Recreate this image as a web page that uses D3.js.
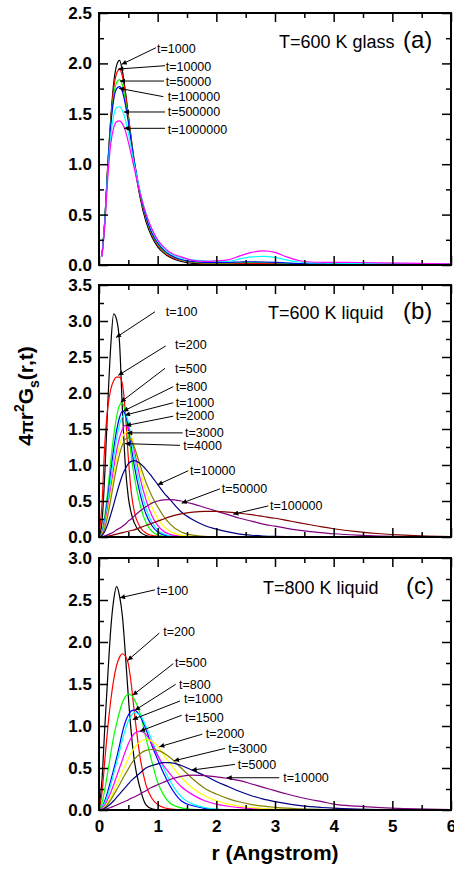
<!DOCTYPE html>
<html>
<head>
<meta charset="utf-8">
<script src="https://cdnjs.cloudflare.com/ajax/libs/d3/7.8.5/d3.min.js"></script>
<style>
body { margin: 0; background: #fff; }
svg { display: block; font-family: "Liberation Sans", Arial, sans-serif; }
</style>
</head>
<body>
<svg></svg>
<script>
// r grid of panel (a)
var rA = [0.05, 0.1, 0.15, 0.2, 0.25, 0.3, 0.35, 0.4, 0.45, 0.5,
    0.6, 0.7, 0.8, 0.9, 1.0, 1.1, 1.2,
    1.4, 1.6, 1.8, 2.0, 2.2, 2.4, 2.6, 2.8, 3.0, 3.2, 3.4, 3.6, 3.8,
    4.0, 4.4, 4.8, 5.2, 5.6, 6.0];

var glass1000 = [0.09, 0.45, 1.0, 1.45, 1.8, 1.98, 2.03, 1.92, 1.72, 1.48,
    1.02, 0.67, 0.43, 0.28, 0.18, 0.12, 0.08,
    0.035, 0.016, 0.01, 0.008, 0.008, 0.008, 0.008, 0.008, 0.008, 0.006, 0.005, 0.005, 0.005,
    0.005, 0.005, 0.004, 0.004, 0.004, 0.004];
var glass10000 = [0.09, 0.45, 1.0, 1.43, 1.75, 1.9, 1.94, 1.87, 1.7, 1.48,
    1.04, 0.7, 0.46, 0.3, 0.2, 0.13, 0.09,
    0.045, 0.025, 0.016, 0.013, 0.013, 0.014, 0.015, 0.015, 0.013, 0.01, 0.008, 0.007, 0.007,
    0.007, 0.006, 0.006, 0.005, 0.005, 0.005];
var glass50000 = [0.09, 0.45, 0.98, 1.4, 1.68, 1.81, 1.84, 1.78, 1.63, 1.44,
    1.03, 0.71, 0.47, 0.31, 0.21, 0.14, 0.1,
    0.05, 0.03, 0.022, 0.02, 0.022, 0.025, 0.027, 0.027, 0.024, 0.018, 0.013, 0.01, 0.009,
    0.009, 0.009, 0.008, 0.007, 0.006, 0.006];
var glass100000 = [0.09, 0.44, 0.97, 1.38, 1.64, 1.75, 1.77, 1.72, 1.59, 1.42,
    1.03, 0.72, 0.48, 0.32, 0.22, 0.15, 0.105,
    0.055, 0.035, 0.027, 0.025, 0.027, 0.03, 0.032, 0.03, 0.026, 0.02, 0.015, 0.012, 0.011,
    0.011, 0.011, 0.01, 0.008, 0.007, 0.006];
var glass500000 = [0.08, 0.42, 0.92, 1.28, 1.48, 1.56, 1.57, 1.53, 1.44, 1.31,
    1.0, 0.73, 0.51, 0.35, 0.24, 0.17, 0.12,
    0.07, 0.05, 0.04, 0.035, 0.035, 0.06, 0.08, 0.085, 0.075, 0.05, 0.03, 0.022, 0.02,
    0.018, 0.016, 0.014, 0.012, 0.01, 0.008];
var glass1000000 = [0.08, 0.4, 0.87, 1.2, 1.36, 1.42, 1.43, 1.4, 1.33, 1.22,
    0.96, 0.71, 0.51, 0.36, 0.25, 0.18, 0.13,
    0.08, 0.045, 0.035, 0.04, 0.05, 0.09, 0.125, 0.14, 0.125, 0.08, 0.045, 0.03, 0.027,
    0.026, 0.025, 0.022, 0.018, 0.015, 0.012];

// r grid of panels (b) and (c)
var rBC = [0, 0.05, 0.1, 0.15, 0.2, 0.25, 0.3, 0.35, 0.4, 0.45,
    0.5, 0.55, 0.6, 0.7, 0.8, 0.9, 1.0, 1.1, 1.2,
    1.4, 1.6, 1.8, 2.0, 2.2, 2.4, 2.6, 2.8, 3.0, 3.2,
    3.4, 3.6, 3.8, 4.0, 4.4, 4.8, 5.2, 5.6, 6.0];

var liq600_100 = [0, 0.2, 0.9, 1.85, 2.65, 3.1, 3.02, 2.7, 1.75, 0.98,
    0.55, 0.33, 0.2, 0.07, 0.02, 0.005, 0, 0, 0,
    0, 0, 0, 0, 0, 0, 0, 0, 0, 0,
    0, 0, 0, 0, 0, 0, 0, 0, 0];
var liq600_200 = [0, 0.45, 1.3, 1.8, 2.05, 2.17, 2.22, 2.22, 2.12, 1.72,
    1.1, 0.62, 0.36, 0.14, 0.055, 0.022, 0.01, 0.005, 0.002,
    0, 0, 0, 0, 0, 0, 0, 0, 0, 0,
    0, 0, 0, 0, 0, 0, 0, 0, 0];
var liq600_500 = [0, 0.07, 0.3, 0.65, 1.05, 1.4, 1.67, 1.83, 1.86, 1.72,
    1.45, 1.12, 0.85, 0.45, 0.2, 0.08, 0.03, 0.01, 0.004,
    0, 0, 0, 0, 0, 0, 0, 0, 0, 0,
    0, 0, 0, 0, 0, 0, 0, 0, 0];
var liq600_800 = [0, 0.06, 0.25, 0.55, 0.9, 1.22, 1.48, 1.66, 1.75, 1.7,
    1.52, 1.25, 1.0, 0.6, 0.32, 0.16, 0.07, 0.03, 0.012,
    0.002, 0, 0, 0, 0, 0, 0, 0, 0, 0,
    0, 0, 0, 0, 0, 0, 0, 0, 0];
var liq600_1000 = [0, 0.05, 0.22, 0.48, 0.8, 1.1, 1.37, 1.56, 1.67, 1.7,
    1.6, 1.38, 1.12, 0.7, 0.4, 0.21, 0.1, 0.045, 0.02,
    0.004, 0, 0, 0, 0, 0, 0, 0, 0, 0,
    0, 0, 0, 0, 0, 0, 0, 0, 0];
var liq600_2000 = [0, 0.04, 0.18, 0.4, 0.67, 0.95, 1.2, 1.38, 1.5, 1.55,
    1.52, 1.4, 1.22, 0.82, 0.52, 0.3, 0.16, 0.08, 0.04,
    0.009, 0.002, 0, 0, 0, 0, 0, 0, 0, 0,
    0, 0, 0, 0, 0, 0, 0, 0, 0];
var liq600_3000 = [0, 0.035, 0.15, 0.35, 0.6, 0.85, 1.08, 1.27, 1.39, 1.45,
    1.46, 1.4, 1.27, 0.93, 0.64, 0.42, 0.26, 0.15, 0.085,
    0.025, 0.007, 0.002, 0, 0, 0, 0, 0, 0, 0,
    0, 0, 0, 0, 0, 0, 0, 0, 0];
var liq600_4000 = [0, 0.03, 0.13, 0.3, 0.52, 0.75, 0.97, 1.15, 1.28, 1.36,
    1.38, 1.34, 1.25, 1.0, 0.76, 0.57, 0.42, 0.29, 0.19,
    0.07, 0.025, 0.008, 0.003, 0, 0, 0, 0, 0, 0,
    0, 0, 0, 0, 0, 0, 0, 0, 0];
var liq600_10000 = [0, 0.02, 0.08, 0.18, 0.31, 0.45, 0.6, 0.74, 0.86, 0.95,
    1.02, 1.05, 1.06, 1.02, 0.94, 0.84, 0.73, 0.62, 0.53,
    0.35, 0.24, 0.16, 0.11, 0.07, 0.04, 0.024, 0.014, 0.008, 0.004,
    0.002, 0, 0, 0, 0, 0, 0, 0, 0];
var liq600_50000 = [0, 0.005, 0.015, 0.03, 0.05, 0.07, 0.1, 0.12, 0.15, 0.18,
    0.22, 0.25, 0.29, 0.36, 0.42, 0.47, 0.5, 0.515, 0.52,
    0.5, 0.46, 0.41, 0.36, 0.31, 0.26, 0.22, 0.18, 0.15, 0.12,
    0.095, 0.075, 0.06, 0.045, 0.025, 0.013, 0.007, 0.004, 0.002];
var liq600_100000 = [0, 0.002, 0.006, 0.012, 0.02, 0.03, 0.04, 0.05, 0.06, 0.07,
    0.08, 0.09, 0.1, 0.13, 0.16, 0.19, 0.22, 0.25, 0.28,
    0.32, 0.345, 0.355, 0.355, 0.345, 0.33, 0.31, 0.285, 0.26, 0.23,
    0.2, 0.17, 0.14, 0.115, 0.075, 0.045, 0.025, 0.013, 0.007];

var liq800_100 = [0, 0.35, 1.0, 1.6, 2.15, 2.5, 2.66, 2.55, 2.3, 1.85,
    1.35, 0.92, 0.6, 0.26, 0.06, 0.015, 0.003, 0, 0,
    0, 0, 0, 0, 0, 0, 0, 0, 0, 0,
    0, 0, 0, 0, 0, 0, 0, 0, 0];
var liq800_200 = [0, 0.2, 0.6, 0.98, 1.3, 1.55, 1.72, 1.82, 1.86, 1.83,
    1.74, 1.5, 1.18, 0.63, 0.3, 0.14, 0.065, 0.03, 0.014,
    0.003, 0, 0, 0, 0, 0, 0, 0, 0, 0,
    0, 0, 0, 0, 0, 0, 0, 0, 0];
var liq800_500 = [0, 0.08, 0.25, 0.45, 0.67, 0.87, 1.03, 1.17, 1.28, 1.35,
    1.38, 1.37, 1.32, 1.15, 0.86, 0.58, 0.33, 0.18, 0.09,
    0.025, 0.007, 0.002, 0, 0, 0, 0, 0, 0, 0,
    0, 0, 0, 0, 0, 0, 0, 0, 0];
var liq800_800 = [0, 0.03, 0.11, 0.22, 0.35, 0.48, 0.62, 0.77, 0.93, 1.05,
    1.13, 1.18, 1.19, 1.12, 0.96, 0.77, 0.6, 0.44, 0.3,
    0.11, 0.05, 0.02, 0.008, 0.003, 0, 0, 0, 0, 0,
    0, 0, 0, 0, 0, 0, 0, 0, 0];
var liq800_1000 = [0, 0.025, 0.09, 0.18, 0.3, 0.43, 0.56, 0.7, 0.84, 0.96,
    1.06, 1.12, 1.16, 1.13, 1.0, 0.83, 0.66, 0.5, 0.36,
    0.16, 0.07, 0.03, 0.012, 0.005, 0.002, 0, 0, 0, 0,
    0, 0, 0, 0, 0, 0, 0, 0, 0];
var liq800_1500 = [0, 0.02, 0.06, 0.13, 0.21, 0.3, 0.4, 0.5, 0.6, 0.7,
    0.79, 0.86, 0.91, 0.94, 0.9, 0.79, 0.65, 0.53, 0.44,
    0.28, 0.18, 0.11, 0.07, 0.045, 0.028, 0.017, 0.01, 0.006, 0.003,
    0.002, 0, 0, 0, 0, 0, 0, 0, 0];
var liq800_2000 = [0, 0.01, 0.04, 0.09, 0.15, 0.22, 0.3, 0.38, 0.46, 0.54,
    0.61, 0.68, 0.74, 0.81, 0.84, 0.82, 0.76, 0.66, 0.56,
    0.39, 0.26, 0.17, 0.11, 0.07, 0.045, 0.03, 0.018, 0.011, 0.007,
    0.004, 0.002, 0.001, 0, 0, 0, 0, 0, 0];
var liq800_3000 = [0, 0.008, 0.03, 0.07, 0.12, 0.18, 0.24, 0.3, 0.37, 0.43,
    0.49, 0.55, 0.6, 0.67, 0.71, 0.72, 0.71, 0.68, 0.63,
    0.5, 0.37, 0.26, 0.19, 0.135, 0.095, 0.065, 0.045, 0.032, 0.022,
    0.015, 0.01, 0.007, 0.005, 0.002, 0.001, 0, 0, 0];
var liq800_5000 = [0, 0.005, 0.02, 0.045, 0.075, 0.11, 0.15, 0.19, 0.23, 0.27,
    0.31, 0.35, 0.38, 0.44, 0.5, 0.53, 0.55, 0.565, 0.565,
    0.53, 0.47, 0.41, 0.34, 0.28, 0.22, 0.17, 0.13, 0.1, 0.075,
    0.055, 0.04, 0.03, 0.022, 0.012, 0.006, 0.003, 0.001, 0];
var liq800_10000 = [0, 0.002, 0.008, 0.018, 0.03, 0.045, 0.06, 0.075, 0.09, 0.105,
    0.12, 0.14, 0.155, 0.19, 0.23, 0.27, 0.3, 0.33, 0.36,
    0.4, 0.415, 0.41, 0.395, 0.375, 0.35, 0.31, 0.27, 0.23, 0.19,
    0.155, 0.125, 0.1, 0.07, 0.045, 0.028, 0.017, 0.01, 0.005];

// Origin default line colours
var colors = ['#000000', '#ff0000', '#00ff00', '#0000ff', '#00ffff', '#ff00ff',
    '#ffff00', '#808000', '#000080', '#800080', '#800000'];

// labels: text anchor, arrow tail and arrow tip, all in (r, value)
var notesA = [
    {t: 't=1000', at: [0.99, 2.143], from: [0.972, 2.156], to: [0.387, 1.991]},
    {t: 't=10000', at: [1.137, 1.974], from: [1.125, 1.977], to: [0.329, 1.944]},
    {t: 't=50000', at: [1.137, 1.825], from: [1.108, 1.825], to: [0.358, 1.825]},
    {t: 't=100000', at: [1.171, 1.67], from: [1.096, 1.67], to: [0.341, 1.753]},
    {t: 't=500000', at: [1.171, 1.518], from: [1.125, 1.518], to: [0.426, 1.518]},
    {t: 't=1000000', at: [1.171, 1.346], from: [1.125, 1.356], to: [0.426, 1.356]}
];
var notesB = [
    {t: 't=100', at: [1.137, 3.128], from: [0.954, 3.128], to: [0.29, 2.771]},
    {t: 't=200', at: [1.295, 2.678], from: [1.137, 2.654], to: [0.329, 2.245]},
    {t: 't=500', at: [1.295, 2.343], from: [1.125, 2.343], to: [0.37, 1.873]},
    {t: 't=800', at: [1.307, 2.088], from: [1.266, 2.088], to: [0.414, 1.748]},
    {t: 't=1000', at: [1.307, 1.865], from: [1.266, 1.865], to: [0.443, 1.692]},
    {t: 't=2000', at: [1.307, 1.692], from: [1.266, 1.678], to: [0.46, 1.548]},
    {t: 't=3000', at: [1.466, 1.446], from: [1.427, 1.446], to: [0.482, 1.446]},
    {t: 't=4000', at: [1.437, 1.273], from: [1.381, 1.273], to: [0.443, 1.297]},
    {t: 't=10000', at: [1.551, 0.921], from: [1.522, 0.921], to: [1.0, 0.725]},
    {t: 't=50000', at: [2.091, 0.669], from: [2.062, 0.669], to: [1.41, 0.47]},
    {t: 't=100000', at: [2.915, 0.432], from: [2.886, 0.432], to: [2.289, 0.317]}
];
var notesC = [
    {t: 't=100', at: [0.983, 2.613], from: [0.954, 2.621], to: [0.358, 2.526]},
    {t: 't=200', at: [1.096, 2.129], from: [1.028, 2.106], to: [0.489, 1.781]},
    {t: 't=500', at: [1.295, 1.761], from: [1.266, 1.742], to: [0.574, 1.366]},
    {t: 't=800', at: [1.364, 1.496], from: [1.307, 1.496], to: [0.614, 1.188]},
    {t: 't=1000', at: [1.449, 1.322], from: [1.381, 1.298], to: [0.574, 1.077]},
    {t: 't=1500', at: [1.466, 1.101], from: [1.41, 1.128], to: [0.699, 0.938]},
    {t: 't=2000', at: [1.819, 0.911], from: [1.761, 0.903], to: [1.028, 0.752]},
    {t: 't=3000', at: [2.204, 0.733], from: [2.148, 0.733], to: [1.278, 0.586]},
    {t: 't=5000', at: [2.364, 0.543], from: [2.318, 0.543], to: [1.58, 0.475]},
    {t: 't=10000', at: [3.141, 0.384], from: [3.073, 0.384], to: [2.177, 0.384]}
];

var width = 454, height = 869;
var left = 99, right = 451, plotH = 252;

var panels = [
    {top: 13, ymax: 2.5, r: rA, notes: notesA, title: 'T=600 K glass', titleX: 279, tag: '(a)', tagX: 403, base: 48,
        series: [glass1000, glass10000, glass50000, glass100000, glass500000, glass1000000]},
    {top: 285, ymax: 3.5, r: rBC, notes: notesB, title: 'T=600 K liquid', titleX: 268, tag: '(b)', tagX: 403, base: 319,
        series: [liq600_100, liq600_200, liq600_500, liq600_800, liq600_1000, liq600_2000,
            liq600_3000, liq600_4000, liq600_10000, liq600_50000, liq600_100000]},
    {top: 558, ymax: 3.0, r: rBC, notes: notesC, title: 'T=800 K liquid', titleX: 263, tag: '(c)', tagX: 406, base: 594,
        series: [liq800_100, liq800_200, liq800_500, liq800_800, liq800_1000, liq800_1500,
            liq800_2000, liq800_3000, liq800_5000, liq800_10000]}
];

var svg = d3.select('svg')
    .attr('width', width)
    .attr('height', height);

svg.append('defs').append('marker')
    .attr('id', 'head')
    .attr('viewBox', '0 0 10 10')
    .attr('refX', 10)
    .attr('refY', 5)
    .attr('markerUnits', 'userSpaceOnUse')
    .attr('markerWidth', 8)
    .attr('markerHeight', 5)
    .attr('orient', 'auto')
    .append('path')
    .attr('d', 'M0,0L10,5L0,10z')
    .style('fill', '#000');

var x = d3.scaleLinear().domain([0, 6]).range([left, right]);

var styleTicks = function(sel) {
    sel.select('.domain').remove();
    sel.selectAll('.tick line').style('stroke', '#000').style('stroke-width', 1.5);
    sel.selectAll('text')
        .style('font-family', '"Liberation Sans", Arial, sans-serif')
        .style('font-size', '17px')
        .style('font-weight', 'bold')
        .style('fill', '#000');
};

panels.forEach(function(p, k) {
    var y = d3.scaleLinear().domain([0, p.ymax]).range([p.top + plotH, p.top]);
    var g = svg.append('g').attr('class', 'panel');
    var bottom = p.top + plotH;
    var major = d3.range(0, p.ymax + 0.01, 0.5);
    var minor = d3.range(0.25, p.ymax, 0.5);
    var xMajor = d3.range(0, 7, 1);
    var xMinor = d3.range(0.5, 6, 1);

    var line = d3.line()
        .x(function(d, i) { return x(p.r[i]); })
        .y(function(d) { return y(d); })
        .curve(d3.curveMonotoneX);

    g.selectAll('path.curve')
        .data(p.series)
        .enter()
        .append('path')
        .attr('class', 'curve')
        .attr('d', line)
        .style('fill', 'none')
        .style('stroke', function(d, i) { return colors[i]; })
        .style('stroke-width', 1.2);

    // inward ticks on all four sides
    g.append('g').attr('transform', 'translate(' + left + ',0)')
        .call(d3.axisLeft(y).tickValues(major).tickSize(-9).tickPadding(7).tickFormat(d3.format('.1f')))
        .call(styleTicks);
    g.append('g').attr('transform', 'translate(' + left + ',0)')
        .call(d3.axisLeft(y).tickValues(minor).tickSize(-5).tickFormat(''))
        .call(styleTicks);
    g.append('g').attr('transform', 'translate(' + right + ',0)')
        .call(d3.axisRight(y).tickValues(major).tickSize(-9).tickFormat(''))
        .call(styleTicks);
    g.append('g').attr('transform', 'translate(' + right + ',0)')
        .call(d3.axisRight(y).tickValues(minor).tickSize(-5).tickFormat(''))
        .call(styleTicks);
    g.append('g').attr('transform', 'translate(0,' + p.top + ')')
        .call(d3.axisTop(x).tickValues(xMajor).tickSize(-9).tickFormat(''))
        .call(styleTicks);
    g.append('g').attr('transform', 'translate(0,' + p.top + ')')
        .call(d3.axisTop(x).tickValues(xMinor).tickSize(-5).tickFormat(''))
        .call(styleTicks);
    g.append('g').attr('transform', 'translate(0,' + bottom + ')')
        .call(d3.axisBottom(x).tickValues(xMajor).tickSize(-9).tickPadding(10)
            .tickFormat(k === 2 ? d3.format('d') : ''))
        .call(styleTicks);
    g.append('g').attr('transform', 'translate(0,' + bottom + ')')
        .call(d3.axisBottom(x).tickValues(xMinor).tickSize(-5).tickFormat(''))
        .call(styleTicks);

    g.append('rect')
        .attr('x', left)
        .attr('y', p.top)
        .attr('width', right - left)
        .attr('height', plotH)
        .style('fill', 'none')
        .style('stroke', '#000')
        .style('stroke-width', 2);

    var notes = g.selectAll('g.note')
        .data(p.notes)
        .enter()
        .append('g')
        .attr('class', 'note');

    notes.append('line')
        .attr('x1', function(d) { return x(d.from[0]); })
        .attr('y1', function(d) { return y(d.from[1]); })
        .attr('x2', function(d) { return x(d.to[0]); })
        .attr('y2', function(d) { return y(d.to[1]); })
        .style('stroke', '#000')
        .style('stroke-width', 1)
        .attr('marker-end', 'url(#head)');

    notes.append('text')
        .attr('x', function(d) { return x(d.at[0]); })
        .attr('y', function(d) { return y(d.at[1]); })
        .attr('dy', '0.36em')
        .style('font-size', '12.5px')
        .text(function(d) { return d.t; });

    g.append('text')
        .attr('x', p.titleX)
        .attr('y', p.base)
        .style('font-size', '18px')
        .text(p.title);

    g.append('text')
        .attr('x', p.tagX)
        .attr('y', p.base)
        .style('font-size', '24px')
        .text(p.tag);
});

svg.append('text')
    .attr('x', (left + right) / 2)
    .attr('y', 860)
    .attr('text-anchor', 'middle')
    .style('font-size', '21px')
    .style('font-weight', 'bold')
    .text('r (Angstrom)');

var ylab = svg.append('text')
    .attr('transform', 'translate(33,396) rotate(-90)')
    .attr('text-anchor', 'middle')
    .style('font-size', '21px')
    .style('font-weight', 'bold');
ylab.append('tspan').text('4');
ylab.append('tspan').style('font-size', '18px').text('\u03c0');
ylab.append('tspan').text('r');
ylab.append('tspan').attr('dy', -9).style('font-size', '14px').text('2');
ylab.append('tspan').attr('dy', 9).text('G');
ylab.append('tspan').attr('dy', 6).style('font-size', '14px').text('s');
ylab.append('tspan').attr('dy', -6).text('(r,t)');
</script>
</body>
</html>
